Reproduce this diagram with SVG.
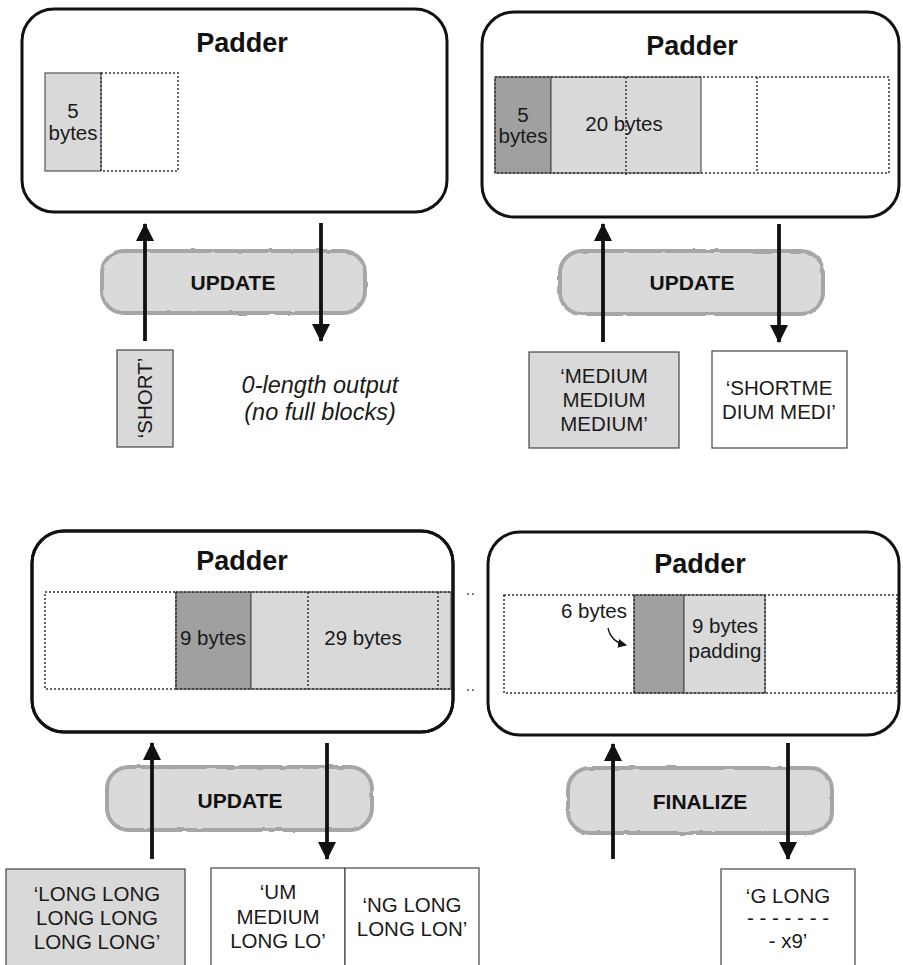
<svg xmlns="http://www.w3.org/2000/svg" width="903" height="965" viewBox="0 0 903 965">
  <defs>
    <style>
      .padder { fill: #ffffff; stroke: #111111; stroke-width: 3; }
      .title { font-family: "Liberation Sans", Arial, sans-serif; font-weight: bold; font-size: 27px; text-anchor: middle; fill: #111111; }
      .op { fill: #dadada; stroke: #a6a6a6; stroke-width: 4; }
      .opText { font-family: "Liberation Sans", Arial, sans-serif; font-weight: bold; font-size: 21px; text-anchor: middle; fill: #111111; }
      .lbl { font-family: "Liberation Sans", Arial, sans-serif; font-size: 20.5px; text-anchor: middle; fill: #1a1a1a; }
      .note { font-family: "Liberation Sans", Arial, sans-serif; font-style: italic; font-size: 23.5px; text-anchor: middle; fill: #1a1a1a; }
      .light { fill: #d9d9d9; stroke: #555555; stroke-width: 1.2; }
      .dark { fill: #a0a0a0; stroke: #555555; stroke-width: 1.2; }
      .dotted { fill: none; stroke: #333333; stroke-width: 1.5; stroke-dasharray: 2 2; }
      .msg { stroke: #444444; stroke-width: 1.2; }
      .msgIn { fill: #d9d9d9; }
      .msgOut { fill: #ffffff; }
      .flow { stroke: #111111; stroke-width: 3.8; fill: none; marker-end: url(#head); }
      .dot { fill: #555555; }
    </style>
    <marker id="head" markerUnits="userSpaceOnUse" markerWidth="18" markerHeight="18" viewBox="0 0 18 18" refX="17" refY="9" orient="auto">
      <path d="M0,0 L18,9 L0,18 z" fill="#111111"/>
    </marker>
    <marker id="smallHead" markerUnits="userSpaceOnUse" markerWidth="9" markerHeight="9" viewBox="0 0 9 9" refX="8" refY="4.5" orient="auto">
      <path d="M0,0 L9,4.5 L0,9 z" fill="#111111"/>
    </marker>
    <filter id="rough" x="-5%" y="-10%" width="110%" height="120%">
      <feTurbulence type="fractalNoise" baseFrequency="0.08" numOctaves="2" seed="3" result="n"/>
      <feDisplacementMap in="SourceGraphic" in2="n" scale="2.5" xChannelSelector="R" yChannelSelector="G"/>
    </filter>
  </defs>

  <!-- Step 1: update with 'SHORT' -->
  <g id="padder-1">
    <rect class="padder" x="22" y="9" width="425" height="203" rx="32"/>
    <text class="title" x="242" y="52">Padder</text>
    <rect class="light" x="45" y="73" width="56" height="98"/>
    <rect class="dotted" x="101" y="73" width="77" height="98"/>
    <text class="lbl" x="73" y="118">5</text>
    <text class="lbl" x="73" y="140">bytes</text>
  </g>
  <g id="op-1">
    <rect class="op" x="102" y="251" width="263" height="62" rx="22" filter="url(#rough)"/>
    <text class="opText" x="233" y="290">UPDATE</text>
  </g>
  <g id="in-1">
    <rect class="msg msgIn" x="117" y="350" width="56" height="97"/>
    <text class="lbl" transform="translate(145,398) rotate(-90)" y="7">‘SHORT’</text>
  </g>
  <g id="out-1">
    <text class="note" x="320" y="393">0-length output</text>
    <text class="note" x="320" y="420">(no full blocks)</text>
  </g>

  <!-- Step 2: update with 'MEDIUM MEDIUM MEDIUM' -->
  <g id="padder-2">
    <rect class="padder" x="482" y="12" width="417" height="205" rx="32"/>
    <text class="title" x="692" y="55">Padder</text>
    <rect class="dark" x="495" y="77" width="56" height="96"/>
    <rect class="light" x="551" y="77" width="150" height="96"/>
    <rect class="dotted" x="495" y="77" width="394" height="96"/>
    <line class="dotted" x1="626" y1="77" x2="626" y2="175"/>
    <line class="dotted" x1="757" y1="77" x2="757" y2="173"/>
    <text class="lbl" x="523" y="122">5</text>
    <text class="lbl" x="523" y="143">bytes</text>
    <text class="lbl" x="624" y="131">20 bytes</text>
  </g>
  <g id="op-2">
    <rect class="op" x="560" y="251" width="263" height="63" rx="22" filter="url(#rough)"/>
    <text class="opText" x="692" y="290">UPDATE</text>
  </g>
  <g id="in-2">
    <rect class="msg msgIn" x="529" y="352" width="150" height="96"/>
    <text class="lbl" x="604" y="383">‘MEDIUM</text>
    <text class="lbl" x="604" y="407">MEDIUM</text>
    <text class="lbl" x="604" y="431">MEDIUM’</text>
  </g>
  <g id="out-2">
    <rect class="msg msgOut" x="712" y="351" width="135" height="97"/>
    <text class="lbl" x="779" y="395">‘SHORTME</text>
    <text class="lbl" x="779" y="419">DIUM MEDI’</text>
  </g>

  <!-- Step 3: update with 'LONG LONG ...' -->
  <g id="padder-3">
    <rect class="padder" x="32" y="531" width="421" height="201" rx="32"/>
    <text class="title" x="242" y="570">Padder</text>
    <rect class="dotted" x="45" y="592" width="131" height="97"/>
    <rect class="dark" x="176" y="592" width="75" height="97"/>
    <rect class="light" x="251" y="592" width="200" height="97"/>
    <line class="dotted" x1="176" y1="592" x2="451" y2="592"/>
    <line class="dotted" x1="176" y1="689" x2="451" y2="689"/>
    <line class="dotted" x1="176" y1="592" x2="176" y2="689"/>
    <line class="dotted" x1="308" y1="592" x2="308" y2="689"/>
    <line class="dotted" x1="438" y1="592" x2="438" y2="689"/>
    <!-- redraw the outline so the buffer strip tucks under the frame -->
    <rect x="32" y="531" width="421" height="201" rx="32" fill="none" stroke="#111111" stroke-width="3"/>
    <text class="lbl" x="213" y="645">9 bytes</text>
    <text class="lbl" x="363" y="645">29 bytes</text>
    <circle class="dot" cx="468" cy="594" r="1"/>
    <circle class="dot" cx="473" cy="594" r="1"/>
    <circle class="dot" cx="468" cy="690" r="1"/>
    <circle class="dot" cx="473" cy="690" r="1"/>
  </g>
  <g id="op-3">
    <rect class="op" x="107" y="767" width="265" height="63" rx="22" filter="url(#rough)"/>
    <text class="opText" x="240" y="808">UPDATE</text>
  </g>
  <g id="in-3">
    <rect class="msg msgIn" x="6" y="869" width="179" height="100"/>
    <text class="lbl" x="97" y="901">‘LONG LONG</text>
    <text class="lbl" x="97" y="925">LONG LONG</text>
    <text class="lbl" x="97" y="949">LONG LONG’</text>
  </g>
  <g id="out-3">
    <rect class="msg msgOut" x="211" y="868" width="134" height="100"/>
    <rect class="msg msgOut" x="345" y="868" width="134" height="100"/>
    <text class="lbl" x="278" y="899">‘UM</text>
    <text class="lbl" x="278" y="924">MEDIUM</text>
    <text class="lbl" x="278" y="948">LONG LO’</text>
    <text class="lbl" x="412" y="912">‘NG LONG</text>
    <text class="lbl" x="412" y="936">LONG LON’</text>
  </g>

  <!-- Step 4: finalize -->
  <g id="padder-4">
    <rect class="padder" x="488" y="532" width="411" height="203" rx="32"/>
    <text class="title" x="700" y="573">Padder</text>
    <rect class="dark" x="634" y="595" width="50" height="98"/>
    <rect class="light" x="684" y="595" width="81" height="98"/>
    <rect class="dotted" x="504" y="595" width="393" height="98"/>
    <line class="dotted" x1="634" y1="595" x2="634" y2="695"/>
    <line class="dotted" x1="765" y1="595" x2="765" y2="693"/>
    <text class="lbl" x="627" y="618" style="text-anchor:end">6 bytes</text>
    <path d="M608,628 Q611,642 626,645" fill="none" stroke="#111111" stroke-width="1.3" marker-end="url(#smallHead)"/>
    <text class="lbl" x="725" y="633">9 bytes</text>
    <text class="lbl" x="725" y="658">padding</text>
  </g>
  <g id="op-4">
    <rect class="op" x="568" y="768" width="264" height="65" rx="22" filter="url(#rough)"/>
    <text class="opText" x="700" y="809">FINALIZE</text>
  </g>
  <g id="out-4">
    <rect class="msg msgOut" x="721" y="869" width="134" height="100"/>
    <text class="lbl" x="788" y="903">‘G LONG</text>
    <text class="lbl" x="788" y="925">- - - - - - -</text>
    <text class="lbl" x="788" y="948">- x9’</text>
  </g>

  <!-- data flow arrows: input up into the padder, output down from it -->
  <g id="connectors">
    <line class="flow" x1="145" y1="341" x2="145" y2="224"/>
    <line class="flow" x1="321" y1="223" x2="321" y2="341"/>
    <line class="flow" x1="603" y1="342" x2="603" y2="224"/>
    <line class="flow" x1="779" y1="224" x2="779" y2="342"/>
    <line class="flow" x1="152" y1="859" x2="152" y2="743"/>
    <line class="flow" x1="327" y1="743" x2="327" y2="859"/>
    <line class="flow" x1="613" y1="859" x2="613" y2="744"/>
    <line class="flow" x1="788" y1="743" x2="788" y2="859"/>
  </g>
</svg>
